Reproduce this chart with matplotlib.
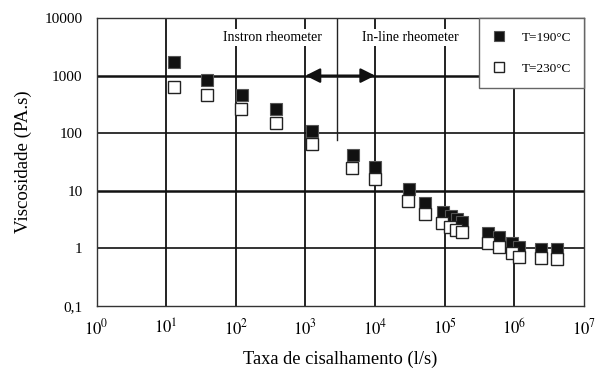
import matplotlib
matplotlib.use('Agg')
import matplotlib.pyplot as plt
import numpy as np

plt.rcParams['font.family'] = ['Liberation Serif', 'DejaVu Serif']
plt.rcParams['mathtext.fontset'] = 'stix'

# shear rate (1/s) and viscosity (Pa.s)
shear_190 = [12.9, 38, 124, 372, 1250, 4740, 10000, 30500, 52800, 94700, 120800,
             150000, 177000, 418000, 596000, 925000, 1.15e6, 2.38e6, 4.14e6]
visc_190 = [1718, 835, 458, 258, 110, 41, 26, 10.5, 6.2, 4.18, 3.65,
            3.19, 2.86, 1.87, 1.54, 1.24, 1.03, 0.97, 0.95]
shear_230 = [12.9, 38, 117, 372, 1230, 4700, 9900, 29500, 51500, 92000, 117000,
             147000, 174000, 418000, 600000, 915000, 1.15e6, 2.38e6, 4.14e6]
visc_230 = [640, 463, 258, 153, 66, 24.3, 15.7, 6.65, 4.0, 2.69, 2.35,
            2.11, 1.92, 1.24, 1.05, 0.83, 0.71, 0.68, 0.64]

y_ticks = [0.1, 1, 10, 100, 1000, 10000]
y_labels = ['0,1', '1', '10', '100', '1000', '10000']
x_exps = [0, 1, 2, 3, 4, 5, 6, 7]

fig = plt.figure(figsize=(5.96, 3.69), dpi=100)
ax = fig.add_axes([0.162, 0.1715, 0.818, 0.7795])
ax.set_xscale('log')
ax.set_yscale('log')
ax.set_xlim(1, 1e7)
ax.set_ylim(0.1, 10000)

ax.set_xticks([10.0 ** e for e in x_exps])
ax.set_xticklabels([f'$10^{{{e}}}$' for e in x_exps], fontsize=12)
ax.set_yticks(y_ticks)
ax.set_yticklabels(y_labels, fontsize=11)
ax.minorticks_off()
ax.tick_params(length=0, pad=10)
ax.tick_params(axis='x', pad=9)

for e in x_exps[1:-1]:
    ax.axvline(10.0 ** e, color='#111111', lw=1.3, zorder=1)
for v in y_ticks[1:-1]:
    lw = 1.8 if v in (10, 1000) else 1.2
    ax.axhline(v, color='#111111', lw=lw, zorder=1)
for s in ax.spines.values():
    s.set_color('#333333')
    s.set_linewidth(1.0)

# separator between the two rheometers
ax.plot([2850, 2850], [10000, 75], color='#222222', lw=1.0, zorder=1)
ax.annotate('', xy=(1e3, 1000), xytext=(1e4, 1000),
            arrowprops=dict(arrowstyle='<|-|>', color='#111111', lw=1.6,
                            mutation_scale=22, shrinkA=0, shrinkB=0), zorder=2)

box = dict(facecolor='white', edgecolor='none', pad=1.5)
ax.text(10 ** 2.52, 10 ** 3.66, 'Instron rheometer', ha='center', va='center',
        fontsize=10, bbox=box, zorder=3)
ax.text(10 ** 4.5, 10 ** 3.66, 'In-line rheometer', ha='center', va='center',
        fontsize=10, bbox=box, zorder=3)

ax.plot(shear_190, visc_190, ls='none', marker='s', ms=8.3, mfc='#111111',
        mec='#555555', mew=0.8, label='T=190°C', zorder=4)
ax.plot(shear_230, visc_230, ls='none', marker='s', ms=8.3, mfc='white',
        mec='#222222', mew=1.0, label='T=230°C', zorder=5)

leg = ax.legend(loc='upper right', bbox_to_anchor=(1, 1), borderaxespad=0,
                frameon=True, fancybox=False, edgecolor='#666666', framealpha=1,
                fontsize=9.5, borderpad=1.0, labelspacing=1.45, handlelength=1.0,
                handletextpad=1.2, markerscale=0.95)
leg.get_frame().set_linewidth(1.0)
leg.set_zorder(10)

ax.set_xlabel('Taxa de cisalhamento (l/s)', fontsize=13.3, labelpad=9)
ax.set_ylabel('Viscosidade (PA.s)', fontsize=13.6, labelpad=9)

fig.savefig('out.png', dpi=100)
